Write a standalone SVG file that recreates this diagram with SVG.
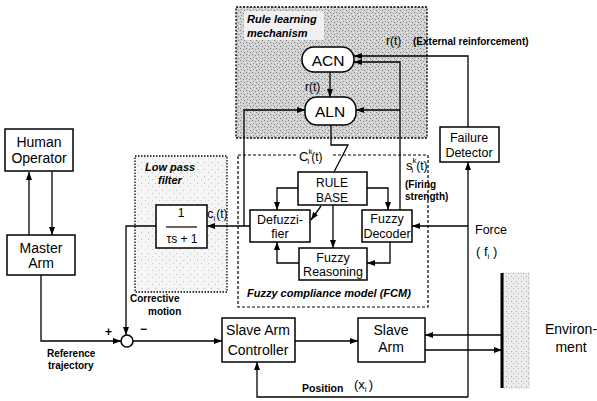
<svg xmlns="http://www.w3.org/2000/svg" width="597" height="401" viewBox="0 0 597 401">
<defs>
<pattern id="dark" width="6" height="6" patternUnits="userSpaceOnUse">
<rect width="6" height="6" fill="#d2d2d2"/>
<rect x="0" y="0" width="1" height="1" fill="#7a7a7a"/>
<rect x="3" y="1" width="1" height="1" fill="#8a8a8a"/>
<rect x="1" y="3" width="1" height="1" fill="#999"/>
<rect x="4" y="4" width="1" height="1" fill="#7a7a7a"/>
<rect x="2" y="5" width="1" height="1" fill="#f0f0f0"/>
<rect x="5" y="2" width="1" height="1" fill="#f0f0f0"/>
</pattern>
<pattern id="light" width="7" height="7" patternUnits="userSpaceOnUse">
<rect width="7" height="7" fill="#f5f5f5"/>
<rect x="1" y="1" width="1" height="1" fill="#bbb"/>
<rect x="5" y="4" width="1" height="1" fill="#c8c8c8"/>
</pattern>
<pattern id="wall" width="5" height="5" patternUnits="userSpaceOnUse">
<rect width="5" height="5" fill="#ececec"/>
<rect x="1" y="1" width="1" height="1" fill="#aaa"/>
<rect x="3" y="3" width="1" height="1" fill="#bbb"/>
</pattern>
<marker id="ah" markerWidth="8" markerHeight="6" refX="8" refY="3" orient="auto" markerUnits="userSpaceOnUse">
<path d="M0,0L8,3L0,6z" fill="#000"/>
</marker>
</defs>
<style>
.box{fill:#fff;stroke:#000;stroke-width:1.5}
.ln{fill:none;stroke:#000;stroke-width:1.3}
.ar{fill:none;stroke:#000;stroke-width:1.3;marker-end:url(#ah)}
.t{font-family:"Liberation Sans",Arial,sans-serif;fill:#000}
.big{font-size:14px}
.mid{font-size:12.5px}
.sm{font-size:10px;font-weight:bold}
.it{font-size:11px;font-weight:bold;font-style:italic}
.m{text-anchor:middle}
</style>

<g id="rule-learning-mechanism">
<rect x="236" y="7" width="191" height="131" fill="url(#dark)" stroke="#000" stroke-width="1.3" stroke-dasharray="2,1.5"/>
<rect x="244" y="11" width="80" height="29" fill="#f0f0f0"/>
<text class="t it" x="247" y="23">Rule learning</text>
<text class="t it" x="247" y="37">mechanism</text>
</g>

<g id="low-pass-filter">
<rect x="135" y="156" width="92" height="136" fill="url(#light)" stroke="#000" stroke-width="1.3" stroke-dasharray="1.5,1.5"/>
<text class="t it" x="145" y="171">Low pass</text>
<text class="t it" x="158" y="184">filter</text>
</g>

<g id="fcm">
<rect x="238" y="155" width="190" height="152" fill="none" stroke="#000" stroke-width="1.2" stroke-dasharray="3,2"/>
<text class="t it" x="247" y="297">Fuzzy compliance model (FCM)</text>
</g>

<g id="connectors">
<path class="ar" d="M29,235V172"/>
<path class="ar" d="M52,171V235"/>
<path class="ar" d="M41,275V341H121"/>
<path class="ar" d="M133,341H222"/>
<path class="ar" d="M295,341H358"/>
<path class="ar" d="M425,350H502"/>
<path class="ar" d="M502,335H425"/>
<path class="ar" d="M468,397H257V362"/>
<path class="ar" d="M468,397V162"/>
<path class="ar" d="M468,226H412"/>
<path class="ar" d="M468,127V56H354"/>
<path class="ar" d="M400,210V62H354"/>
<path class="ar" d="M400,110H356"/>
<path class="ar" d="M330,72V97"/>
<path class="ln" d="M331,125V145H348L334,172"/>
<path class="ar" d="M250,226H207"/>
<path class="ar" d="M244,226V110H305"/>
<path class="ar" d="M156,226H126V335"/>
<path class="ar" d="M298,188H277V210"/>
<path class="ar" d="M367,188H388V210"/>
<path class="ar" d="M333,205V248"/>
<path class="ar" d="M321,206L311,220"/>
<path class="ar" d="M390,242V263H367"/>
<path class="ar" d="M299,263H277V242"/>
</g>

<g id="labels">
<text class="t" x="386" y="45" font-size="12">r(t)</text>
<text class="t sm" x="413" y="45">(External reinforcement)</text>
<text class="t" x="305" y="91" font-size="12">r(t)</text>
<rect x="297" y="146" width="34" height="17" fill="#fff"/>
<text class="t" x="299" y="161" font-size="13">C<tspan font-size="8" dy="-7">k</tspan><tspan font-size="8" dx="-5" dy="10">i</tspan><tspan font-size="12" dx="2" dy="-3">(t)</tspan></text>
<text class="t" x="406" y="170" font-size="13">s<tspan font-size="8" dy="-7">k</tspan><tspan font-size="8" dx="-5" dy="10">i</tspan><tspan font-size="12" dx="3" dy="-3">(t)</tspan></text>
<text class="t sm" x="405" y="188">(Firing</text>
<text class="t sm" x="405" y="200">strength)</text>
<text class="t" x="207" y="218" font-size="13">c<tspan font-size="8" dy="3">i</tspan><tspan font-size="12" dx="1" dy="-3">(t)</tspan></text>
<text class="t" x="475" y="234" font-size="12.5">Force</text>
<text class="t" x="476" y="256" font-size="13">( f<tspan font-size="8" dy="3">i</tspan><tspan dy="-3"> )</tspan></text>
<text class="t sm" x="130" y="302">Corrective</text>
<text class="t sm" x="148" y="315">motion</text>
<text class="t" x="105" y="336" font-size="12" font-weight="bold">+</text>
<text class="t" x="140" y="333" font-size="12" font-weight="bold">−</text>
<text class="t sm" x="47" y="357">Reference</text>
<text class="t sm" x="48" y="369">trajectory</text>
<text class="t" x="302" y="392" font-size="10.5" font-weight="bold">Position</text>
<text class="t" x="354" y="389" font-size="13">(x<tspan font-size="8" dy="3">i</tspan><tspan dx="2" dy="-3">)</tspan></text>
</g>

<g id="human-operator">
<rect class="box" x="5" y="129" width="68" height="42"/>
<text class="t big m" x="39" y="147">Human</text>
<text class="t big m" x="39" y="163">Operator</text>
</g>

<g id="master-arm">
<rect class="box" x="7" y="235" width="68" height="40"/>
<text class="t big m" x="41" y="253">Master</text>
<text class="t big m" x="41" y="268">Arm</text>
</g>

<g id="filter-block">
<rect class="box" x="156" y="205" width="51" height="43"/>
<text class="t m" x="181" y="217" font-size="12">1</text>
<line x1="166" y1="227" x2="197" y2="227" stroke="#000" stroke-width="1.2"/>
<text class="t m" x="182" y="243" font-size="12">τs + 1</text>
</g>

<g id="sum-junction">
<circle cx="127" cy="341" r="6" fill="#fff" stroke="#000" stroke-width="1.5"/>
</g>

<g id="acn">
<rect class="box" x="302" y="47" width="52" height="25" rx="12"/>
<text class="t m" x="328" y="66" font-size="15.5">ACN</text>
</g>

<g id="aln">
<rect class="box" x="305" y="97" width="51" height="28" rx="12"/>
<text class="t m" x="330" y="117" font-size="15.5">ALN</text>
</g>

<g id="rule-base">
<rect class="box" x="298" y="172" width="69" height="33"/>
<text class="t m" x="332" y="187" font-size="12">RULE</text>
<text class="t m" x="332" y="202" font-size="12">BASE</text>
</g>

<g id="defuzzifier">
<rect class="box" x="250" y="210" width="60" height="32"/>
<text class="t mid m" x="280" y="224">Defuzzi-</text>
<text class="t mid m" x="280" y="238">fier</text>
</g>

<g id="fuzzy-decoder">
<rect class="box" x="362" y="210" width="50" height="32"/>
<text class="t mid m" x="387" y="223">Fuzzy</text>
<text class="t mid m" x="387" y="238">Decoder</text>
</g>

<g id="fuzzy-reasoning">
<rect class="box" x="299" y="248" width="68" height="32"/>
<text class="t mid m" x="333" y="262">Fuzzy</text>
<text class="t mid m" x="333" y="276">Reasoning</text>
</g>

<g id="failure-detector">
<rect class="box" x="440" y="127" width="59" height="35"/>
<text class="t mid m" x="469" y="142">Failure</text>
<text class="t mid m" x="469" y="157">Detector</text>
</g>

<g id="slave-arm-controller">
<rect class="box" x="222" y="318" width="73" height="44"/>
<text class="t big m" x="258" y="335">Slave Arm</text>
<text class="t big m" x="258" y="355">Controller</text>
</g>

<g id="slave-arm">
<rect class="box" x="358" y="318" width="67" height="44"/>
<text class="t big m" x="391" y="335">Slave</text>
<text class="t big m" x="391" y="352">Arm</text>
</g>

<g id="environment">
<rect x="503" y="273" width="26" height="115" fill="url(#wall)" stroke="#999" stroke-width="0.8" stroke-dasharray="1,1.5"/>
<line x1="502" y1="273" x2="502" y2="388" stroke="#000" stroke-width="3"/>
<text class="t big m" x="571" y="334">Environ-</text>
<text class="t big m" x="571" y="352">ment</text>
</g>
</svg>
